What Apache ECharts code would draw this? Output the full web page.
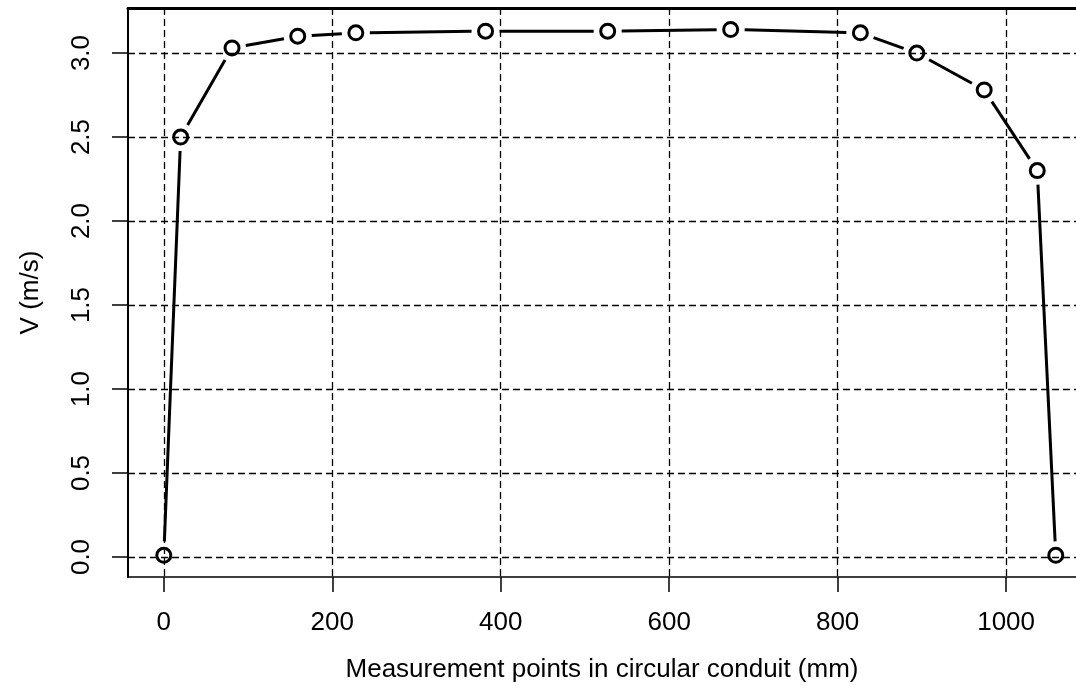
<!DOCTYPE html>
<html>
<head>
<meta charset="utf-8">
<script src="https://cdn.jsdelivr.net/npm/echarts@6/dist/echarts.min.js"></script>
<style>html,body{margin:0;padding:0;background:#fff;}#c{width:1076px;height:688px;}</style>
</head>
<body>
<div id="c"></div>
<script>
// Measurement positions (mm) and velocities (m/s)
var positions = [0, 20, 81, 159, 228, 382, 527, 673, 827, 894, 974, 1037, 1059];
var velocities = [0.01, 2.50, 3.03, 3.10, 3.12, 3.13, 3.13, 3.14, 3.12, 3.00, 2.78, 2.30, 0.01];
var xTicks = [0, 200, 400, 600, 800, 1000];
var yTicks = [0.0, 0.5, 1.0, 1.5, 2.0, 2.5, 3.0];
var xTitle = 'Measurement points in circular conduit (mm)';
var yTitle = 'V (m/s)';

var points = positions.map(function (x, i) { return [x, velocities[i]]; });
var segments = positions.slice(1).map(function (x, i) {
  return [positions[i], velocities[i], x, velocities[i + 1]];
});

var chart = echarts.init(document.getElementById('c'), null, {renderer: 'canvas'});
var font = '"Liberation Sans", Arial, sans-serif';
var GAP = 14;
var XMIN = -42.5, XMAX = 1083;
var gridDash = {color: '#000', width: 1.3, type: [7, 4]};
chart.setOption({
  backgroundColor: '#fff',
  animation: false,
  grid: {left: 128, right: 0, top: 8, bottom: 111, show: false},
  xAxis: [{
    type: 'value', min: XMIN, max: XMAX, minInterval: 200, maxInterval: 200,
    name: xTitle, nameLocation: 'middle', nameGap: 80,
    nameTextStyle: {fontFamily: font, fontSize: 26, color: '#000'},
    axisLine: {show: true, onZero: false, lineStyle: {color: '#000', width: 1.5}},
    axisTick: {show: true, inside: false, length: 15, customValues: xTicks, lineStyle: {color: '#000', width: 1.5}},
    axisLabel: {customValues: xTicks, margin: 33, fontFamily: font, fontSize: 26, color: '#000',
      formatter: function (v) { return String(v); }},
    splitLine: {show: true, lineStyle: gridDash}
  }, {
    type: 'value', position: 'top', min: XMIN, max: XMAX,
    axisLine: {show: true, onZero: false, lineStyle: {color: '#000', width: 3}},
    axisTick: {show: false}, axisLabel: {show: false}, splitLine: {show: false}
  }],
  yAxis: {
    type: 'value', min: -0.119, max: 3.268, minInterval: 0.5, maxInterval: 0.5,
    name: yTitle, nameLocation: 'middle', nameGap: 84, nameRotate: 90,
    nameTextStyle: {fontFamily: font, fontSize: 26, color: '#000'},
    axisLine: {show: true, onZero: false, lineStyle: {color: '#000', width: 2}},
    axisTick: {show: true, inside: false, length: 16, customValues: yTicks, lineStyle: {color: '#000', width: 1.5}},
    axisLabel: {customValues: yTicks, rotate: 90, margin: 33, fontFamily: font, fontSize: 26, color: '#000',
      formatter: function (v) { return v.toFixed(1); }},
    splitLine: {show: true, lineStyle: gridDash}
  },
  series: [
    {
      type: 'custom',
      data: segments,
      encode: {x: [0, 2], y: [1, 3]},
      renderItem: function (params, api) {
        var p0 = api.coord([api.value(0), api.value(1)]);
        var p1 = api.coord([api.value(2), api.value(3)]);
        var dx = p1[0] - p0[0], dy = p1[1] - p0[1];
        var len = Math.sqrt(dx * dx + dy * dy);
        if (len <= 2 * GAP) return null;
        var ux = dx / len, uy = dy / len;
        return {
          type: 'line',
          shape: {x1: p0[0] + ux * GAP, y1: p0[1] + uy * GAP, x2: p1[0] - ux * GAP, y2: p1[1] - uy * GAP},
          style: {stroke: '#000', lineWidth: 3}
        };
      },
      z: 3
    },
    {
      type: 'scatter',
      data: points,
      symbol: 'circle',
      symbolSize: 14,
      itemStyle: {color: 'transparent', borderColor: '#000', borderWidth: 3, opacity: 1},
      emphasis: {disabled: true},
      z: 4
    }
  ]
});
</script>
</body>
</html>
